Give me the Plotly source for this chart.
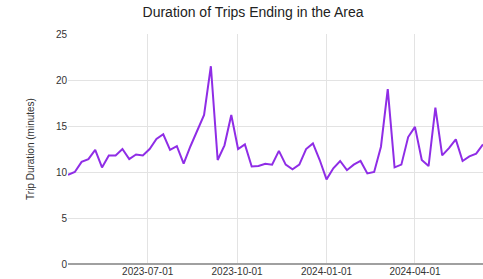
import pandas as pd
import plotly.graph_objects as go

start_date = "2023-04-10"
durations = [
    9.7, 10.0, 11.1, 11.4, 12.4, 10.5, 11.8, 11.8, 12.5, 11.4,
    11.9, 11.8, 12.5, 13.6, 14.1, 12.4, 12.8, 10.9, 12.8, 14.6,
    16.2, 21.5, 11.3, 12.9, 16.2, 12.5, 13.0, 10.6, 10.65, 10.9,
    10.8, 12.3, 10.8, 10.3, 10.8, 12.5, 13.1, 11.3, 9.2, 10.4,
    11.2, 10.2, 10.8, 11.2, 9.85, 10.0, 12.75, 19.0, 10.5, 10.8,
    13.8, 14.9, 11.3, 10.65, 17.0, 11.8, 12.6, 13.55, 11.2, 11.7,
    12.0, 13.0,
]
dates = pd.date_range(start_date, periods=len(durations), freq="7D")
tick_dates = ["2023-07-01", "2023-10-01", "2024-01-01", "2024-04-01"]
y_ticks = [0, 5, 10, 15, 20, 25]

fig = go.Figure(
    go.Scatter(
        x=dates, y=durations, mode="lines",
        line=dict(color="#8f2de6", width=2),
        hoverinfo="skip",
    )
)

font_family = "Liberation Sans, Arial, sans-serif"
fig.update_layout(
    width=483, height=279,
    margin=dict(l=68, r=0, t=34, b=15),
    paper_bgcolor="white", plot_bgcolor="white",
    showlegend=False,
    font=dict(family=font_family, size=10, color="#444444"),
    title=dict(
        text="Duration of Trips Ending in the Area",
        x=0.524, xanchor="center", xref="container",
        y=0.955, yanchor="middle",
        font=dict(family=font_family, size=14, color="#222222"),
    ),
)
fig.update_xaxes(
    range=[dates[0], dates[-1]],
    tickvals=tick_dates, ticktext=tick_dates,
    showgrid=True, gridcolor="#e3e3e3", gridwidth=1,
    showline=False, zeroline=False, ticks="",
    tickfont=dict(size=10, color="#333333"),
    automargin=False,
)
fig.update_yaxes(
    range=[0, 25], tickvals=y_ticks,
    showgrid=True, gridcolor="#e3e3e3", gridwidth=1,
    zeroline=True, zerolinecolor="#a0a0a0", zerolinewidth=1.5,
    showline=False, ticks="",
    tickfont=dict(size=10, color="#333333"),
    title=dict(text="Trip Duration (minutes)", standoff=19,
               font=dict(size=10, color="#333333")),
    automargin=False,
)

fig.write_html(
    "out.html",
    config={"displayModeBar": False, "staticPlot": True},
    post_script="document.body.style.margin='0';document.body.style.overflow='hidden';",
)
